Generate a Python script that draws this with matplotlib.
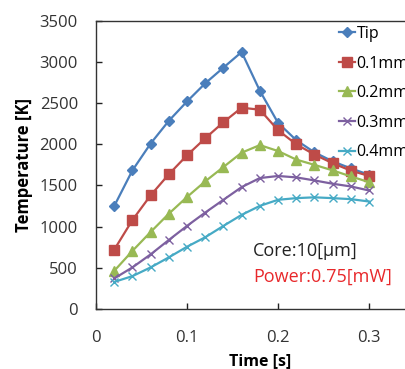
import matplotlib
matplotlib.use("Agg")
import matplotlib.pyplot as plt

plt.rcParams['font.family'] = ['Open Sans', 'DejaVu Sans']

# data
time_s = [0.02, 0.04, 0.06, 0.08, 0.10, 0.12, 0.14, 0.16,
          0.18, 0.20, 0.22, 0.24, 0.26, 0.28, 0.30]
tip = [1250, 1683, 2009, 2285, 2520, 2740, 2931, 3120,
       2650, 2260, 2050, 1902, 1793, 1707, 1630]
mm01 = [720, 1080, 1380, 1636, 1866, 2073, 2268, 2444,
        2420, 2171, 2000, 1875, 1770, 1680, 1615]
mm02 = [463, 705, 935, 1157, 1360, 1550, 1724, 1898,
        1990, 1918, 1814, 1750, 1683, 1610, 1540]
mm03 = [371, 505, 663, 838, 1009, 1171, 1326, 1480,
        1590, 1615, 1598, 1561, 1521, 1488, 1439]
mm04 = [329, 399, 505, 627, 756, 871, 1009, 1143,
        1252, 1326, 1346, 1356, 1346, 1334, 1305]

labels = ['Tip', '0.1mm', '0.2mm', '0.3mm', '0.4mm']
colors = ['#4a7ebb', '#be4b48', '#98b954', '#7d60a0', '#46aac5']
markers = ['D', 's', '^', 'x', 'x']
msizes = [5.5, 6.5, 6.5, 6, 6]

fig = plt.figure(figsize=(4.06, 3.69), dpi=100)
ax = fig.add_axes([0.2365, 0.1626, 0.807, 0.7812])

for ys, lab, c, m, ms in zip([tip, mm01, mm02, mm03, mm04], labels, colors, markers, msizes):
    ax.plot(time_s, ys, color=c, marker=m, markersize=ms, linewidth=1.6,
            markeredgewidth=1.0, label=lab)

ax.set_xlim(0, 0.36)
ax.set_ylim(0, 3500)
ax.set_xticks([0, 0.1, 0.2, 0.3])
ax.set_xticklabels(['0', '0.1', '0.2', '0.3'])
ax.set_yticks(range(0, 3501, 500))
ax.tick_params(direction='in', length=4, width=1, labelsize=12, colors='#222222',
               labelcolor='#333333')
ax.tick_params(axis='x', pad=15)
ax.tick_params(axis='y', pad=13)
for s in ['top', 'left', 'bottom']:
    ax.spines[s].set_color('#333333')
    ax.spines[s].set_linewidth(1.0)
ax.spines['right'].set_visible(False)

ax.set_xlabel('Time [s]', fontsize=11.5, fontweight='bold', labelpad=5)
ax.set_ylabel('Temperature [K]', fontsize=12, fontweight='bold', labelpad=5)

leg = ax.legend(loc='upper left', bbox_to_anchor=(0.742, 0.982), frameon=False,
                fontsize=11.5, handlelength=1.0, handletextpad=0.1,
                labelspacing=0.85, borderaxespad=0, borderpad=0)

ax.text(0.1725, 710, 'Core:10[μm]', fontsize=13, color='#222222', va='center')
ax.text(0.1725, 395, 'Power:0.75[mW]', fontsize=13, color='#e8282b', va='center')

fig.savefig('out.png', dpi=100)
